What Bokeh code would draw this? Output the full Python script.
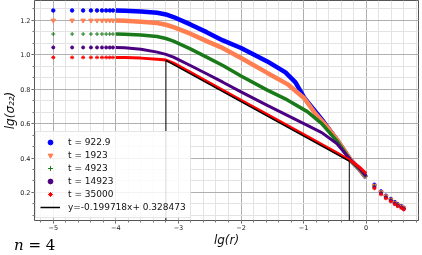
from bokeh.plotting import figure
from bokeh.layouts import column
from bokeh.models import Range1d, FixedTicker, Legend, LegendItem, PrintfTickFormatter, Div
from bokeh.embed import file_html
from bokeh.resources import INLINE

# ---------------- data ----------------
labels = ["t = 922.9", "t = 1923", "t = 4923", "t = 14923", "t = 35000"]
colors = ["#0000ff", "#ff7f50", "#1a7a1a", "#4b0082", "#ff0000"]
markers = ["circle", "inverted_triangle", "cross", "circle", "asterisk"]

fit_slope = -0.199718
fit_intercept = 0.328473
fit_x_start = -3.2
fit_x_end = -0.27
fit_label = "y=-0.199718x+ 0.328473"
panel_note = "<i>n</i> = 4"

# sparse points at small r (lg r)
dots_x = [-5.0, -4.699, -4.523, -4.398, -4.301, -4.222, -4.155, -4.097, -4.046]
blue_dots_y = [1.258, 1.258, 1.258, 1.258, 1.258, 1.258, 1.258, 1.258, 1.258]
orange_dots_y = [1.2, 1.2, 1.2, 1.2, 1.2, 1.2, 1.2, 1.2, 1.2]
green_dots_y = [1.121, 1.121, 1.121, 1.121, 1.121, 1.121, 1.121, 1.121, 1.121]
purple_dots_y = [1.043, 1.043, 1.043, 1.043, 1.043, 1.043, 1.043, 1.043, 1.043]
red_dots_y = [0.985, 0.985, 0.985, 0.985, 0.985, 0.985, 0.985, 0.985, 0.985]

# dense parts (markers so close they form bands)
blue_x = [-4.0, -3.86, -3.6, -3.34, -3.2, -3.08, -2.81, -2.55, -2.29, -2.0, -1.58, -1.29, -1.13, -0.99, -0.94, -0.71, -0.47, -0.24, -0.1, 0.0]
blue_y = [1.258, 1.256, 1.252, 1.245, 1.235, 1.22, 1.177, 1.132, 1.084, 1.04, 0.962, 0.898, 0.84, 0.752, 0.728, 0.625, 0.508, 0.385, 0.332, 0.285]
orange_x = [-4.0, -3.86, -3.6, -3.34, -3.2, -3.08, -2.81, -2.55, -2.29, -2.0, -1.58, -1.26, -0.99, -0.82, -0.6, -0.47, -0.24, -0.1, 0.0]
orange_y = [1.2, 1.198, 1.193, 1.185, 1.175, 1.161, 1.123, 1.08, 1.039, 0.982, 0.895, 0.83, 0.748, 0.662, 0.57, 0.51, 0.386, 0.332, 0.286]
green_x = [-4.0, -3.86, -3.6, -3.34, -3.2, -3.08, -2.81, -2.55, -2.29, -2.0, -1.58, -1.26, -0.94, -0.71, -0.47, -0.24, -0.1, 0.0]
green_y = [1.121, 1.12, 1.116, 1.107, 1.095, 1.08, 1.035, 0.987, 0.938, 0.877, 0.795, 0.738, 0.67, 0.6, 0.5, 0.382, 0.334, 0.29]
purple_x = [-4.0, -3.86, -3.6, -3.34, -3.2, -3.08, -2.81, -2.55, -2.29, -2.0, -1.58, -1.26, -0.94, -0.71, -0.47, -0.24, -0.1, 0.0]
purple_y = [1.043, 1.041, 1.033, 1.016, 1.003, 0.987, 0.938, 0.89, 0.841, 0.785, 0.706, 0.648, 0.59, 0.548, 0.485, 0.385, 0.338, 0.296]
red_x = [-4.0, -3.86, -3.6, -3.34, -3.2, -3.08, -2.81, -2.55, -2.29, -2.0, -1.58, -1.26, -0.94, -0.63, -0.47, -0.24, -0.1, 0.0]
red_y = [0.985, 0.984, 0.981, 0.975, 0.97, 0.952, 0.899, 0.846, 0.794, 0.736, 0.653, 0.589, 0.525, 0.463, 0.43, 0.382, 0.345, 0.31]

# sparse points at r > 1
tail_x = [0.131, 0.237, 0.315, 0.394, 0.457, 0.505, 0.563, 0.6]
blue_tail_y = [0.245, 0.206, 0.181, 0.162, 0.144, 0.131, 0.12, 0.111]
orange_tail_y = [0.24, 0.202, 0.178, 0.159, 0.141, 0.129, 0.118, 0.109]
green_tail_y = [0.236, 0.199, 0.175, 0.156, 0.139, 0.127, 0.116, 0.107]
purple_tail_y = [0.23, 0.194, 0.17, 0.152, 0.135, 0.123, 0.112, 0.104]
red_tail_y = [0.224, 0.189, 0.166, 0.148, 0.132, 0.12, 0.11, 0.101]

x_ticks = [-5, -4, -3, -2, -1, 0]
y_ticks = [0.2, 0.4, 0.6, 0.8, 1.0, 1.2]

series = [
    (dots_x, blue_dots_y, blue_x, blue_y, blue_tail_y),
    (dots_x, orange_dots_y, orange_x, orange_y, orange_tail_y),
    (dots_x, green_dots_y, green_x, green_y, green_tail_y),
    (dots_x, purple_dots_y, purple_x, purple_y, purple_tail_y),
    (dots_x, red_dots_y, red_x, red_y, red_tail_y),
]
band_widths = [4.5, 4.5, 3.5, 3, 3]
marker_sizes = [3.5, 4.5, 4, 3, 4]

# ---------------- figure ----------------
x_lo, x_hi = -5.30, 0.836
y_lo, y_hi = 0.037, 1.316

p = figure(width=422, height=255, output_backend="svg", toolbar_location=None,
           x_range=Range1d(x_lo, x_hi), y_range=Range1d(y_lo, y_hi),
           min_border_left=29, min_border_right=4, min_border_top=0,
           min_border_bottom=35)
p.styles = {"position": "fixed", "top": "0px", "left": "0px"}
p.background_fill_color = "white"
p.outline_line_color = "#555555"
p.outline_line_width = 1

x_minor = [round(-5.2 + 0.2 * i, 3) for i in range(31)]
y_minor = [round(0.2 * i / 3, 4) for i in range(21)]
p.xaxis.ticker = FixedTicker(ticks=x_ticks, minor_ticks=x_minor)
p.yaxis.ticker = FixedTicker(ticks=y_ticks, minor_ticks=y_minor)
p.yaxis.formatter = PrintfTickFormatter(format="%.1f")

for ax in (p.xaxis, p.yaxis):
    ax.axis_line_color = None
    ax.major_tick_line_color = "#555555"
    ax.minor_tick_line_color = "#777777"
    ax.major_tick_out = 3
    ax.major_tick_in = 0
    ax.minor_tick_out = 2
    ax.minor_tick_in = 0
    ax.major_label_text_font_size = "6.5px"
    ax.major_label_text_color = "#222222"
    ax.major_label_text_font = "DejaVu Sans"
    ax.major_label_standoff = 1
    ax.axis_label_text_font = "DejaVu Sans"
    ax.axis_label_text_font_style = "italic"
    ax.axis_label_text_font_size = "12px"
    ax.axis_label_text_color = "#111111"
    ax.axis_label_standoff = 0

p.xaxis.axis_label = "lg(r)"
p.yaxis.axis_label = "lg(σ₂₂)"

for g in (p.xgrid, p.ygrid):
    g.grid_line_color = "#b0b0b0"
    g.grid_line_width = 1
    g.minor_grid_line_color = "#e3e3e3"
    g.minor_grid_line_width = 1

legend_items = []
for (dx, dy, cx, cy, ty), lab, col, mk, bw, ms in zip(series, labels, colors, markers, band_widths, marker_sizes):
    p.line(cx, cy, line_color=col, line_width=bw)
    r = p.scatter(dx, dy, marker=mk, size=ms, fill_color=col, line_color=col, line_width=1)
    p.scatter(tail_x, ty, marker=mk, size=ms, fill_color=col, line_color=col, line_width=1)
    legend_items.append(LegendItem(label=lab, renderers=[r]))

# fitted line and the two vertical marks at its ends
fit_y_start = fit_slope * fit_x_start + fit_intercept
fit_y_end = fit_slope * fit_x_end + fit_intercept
fit_r = p.line([fit_x_start, fit_x_end], [fit_y_start, fit_y_end], line_color="black", line_width=1.5)
p.segment(x0=[fit_x_start, fit_x_end], y0=[y_lo, y_lo], x1=[fit_x_start, fit_x_end],
          y1=[fit_y_start, fit_y_end], line_color="black", line_width=1)
legend_items.append(LegendItem(label=fit_label, renderers=[fit_r]))

legend = Legend(items=legend_items, location=(1, 2))
legend.label_text_font = "DejaVu Sans"
legend.label_text_font_size = "9px"
legend.label_text_color = "#111111"
legend.label_height = 12
legend.glyph_height = 12
legend.glyph_width = 20
legend.label_standoff = 8
legend.spacing = 1
legend.padding = 4
legend.margin = 0
legend.border_line_color = "#cccccc"
legend.background_fill_color = "white"
legend.background_fill_alpha = 0.85
p.add_layout(legend)

note = Div(text=panel_note, width=60, height=20,
           styles={"position": "fixed", "left": "9px", "top": "231px",
                   "font-family": "'DejaVu Serif', serif", "font-size": "15px",
                   "color": "black", "line-height": "18px", "white-space": "nowrap"})

layout = column(p, note, width=422, height=255)
layout.styles = {"position": "fixed", "top": "0px", "left": "0px"}

open("out.html", "w").write(file_html(layout, INLINE))
